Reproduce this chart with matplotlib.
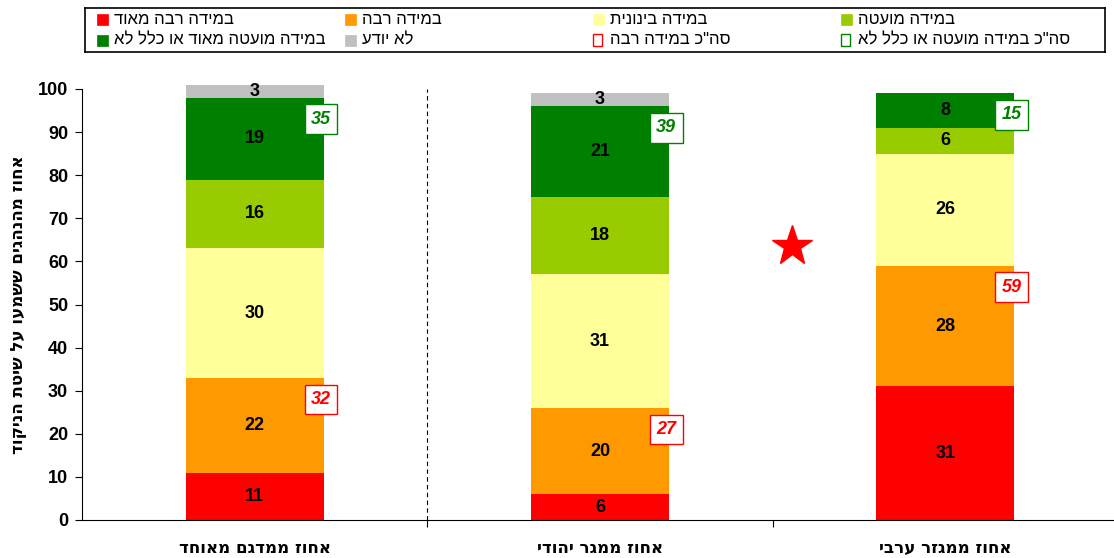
import numpy as np
import matplotlib.pyplot as plt
from matplotlib.patches import Rectangle

plt.rcParams['font.family'] = ['Liberation Sans', 'DejaVu Sans']


def heb(s):
    # matplotlib draws left to right, so Hebrew is reversed for display
    return s[::-1]


# Datos
categories = ['אחוז ממדגם מאוחד', 'אחוז ממגר יהודי', 'אחוז ממגזר ערבי']
very_much = [11, 6, 31]
much = [22, 20, 28]
medium = [30, 31, 26]
little = [16, 18, 6]
not_at_all = [19, 21, 8]
dont_know = [3, 3, 0]
total_much = [32, 27, 59]
total_little = [35, 39, 15]

series_names = ['במידה רבה מאוד', 'במידה רבה', 'במידה בינונית', 'במידה מועטה',
                'במידה מועטה מאוד או כלל לא', 'לא יודע']
series_values = [very_much, much, medium, little, not_at_all, dont_know]
colors = ['#FF0000', '#FF9900', '#FFFF99', '#99CC00', '#008000', '#C0C0C0']
y_label = 'אחוז מהנהגים ששמעו על שיטת הניקוד'
total_much_name = 'סה"כ במידה רבה'
total_little_name = 'סה"כ במידה מועטה או כלל לא'

fig = plt.figure(figsize=(11.14, 5.58), dpi=100)
ax = fig.add_axes([82 / 1114, 38 / 558, 1036 / 1114, 431 / 558])

x = np.arange(len(categories))
width = 0.4
bottom = np.zeros(len(categories))
tops = []

# Barras apiladas con sus etiquetas
for vals, col in zip(series_values, colors):
    vals = np.array(vals, dtype=float)
    ax.bar(x, vals, width, bottom=bottom, color=col, clip_on=False, zorder=2)
    for i, v in enumerate(vals):
        if v > 0:
            ax.text(x[i], bottom[i] + v / 2, '%d' % v, ha='center', va='center',
                    fontsize=13, fontweight='bold', zorder=3)
    bottom = bottom + vals
    tops.append(bottom.copy())

# Cajas con los totales
for i in range(len(categories)):
    ax.text(x[i] + width / 2 - 0.008, tops[1][i] - 5, '%d' % total_much[i],
            ha='center', va='center', color='#FF0000', fontsize=13,
            fontweight='bold', style='italic', zorder=4,
            bbox=dict(boxstyle='square,pad=0.35', fc='white', ec='#FF0000', lw=1))
    ax.text(x[i] + width / 2 - 0.008, tops[4][i] - 5, '%d' % total_little[i],
            ha='center', va='center', color='#008000', fontsize=13,
            fontweight='bold', style='italic', zorder=4,
            bbox=dict(boxstyle='square,pad=0.35', fc='white', ec='#008000', lw=1))

# Línea discontinua y estrella
ax.plot([0.5, 0.5], [0, 100], color='black', lw=0.8, ls=(0, (4, 3)), zorder=1)
star_x, star_y = 1.555, 63.5
ax.plot(star_x, star_y, marker='*', ms=30, color='#FF0000', mec='#FF0000', zorder=3)

# Ejes
ax.set_xlim(-0.5, 2.5)
ax.set_ylim(0, 100)
ax.set_yticks(np.arange(0, 101, 10))
ax.tick_params(axis='y', direction='out', length=5, labelsize=13, pad=5)
for lab in ax.get_yticklabels():
    lab.set_fontweight('bold')
ax.set_xticks([0.5, 1.5])
ax.set_xticklabels([])
ax.tick_params(axis='x', direction='out', length=5)
for i, c in enumerate(categories):
    ax.text(x[i], -6.6, heb(c), ha='center', va='center', fontsize=12,
            fontweight='bold', family='DejaVu Sans', transform=ax.transData)
ax.spines['top'].set_visible(False)
ax.spines['right'].set_visible(False)
ax.spines['left'].set_bounds(0, 100)
ax.set_ylabel(heb(y_label), fontsize=12, fontweight='bold', family='DejaVu Sans',
              labelpad=8)

# Leyenda dibujada a mano (columnas equidistantes)
lax = fig.add_axes([85 / 1114, 1 - 52 / 558, 1020 / 1114, 44 / 558])
lax.set_xlim(0, 1020)
lax.set_ylim(44, 0)
lax.set_xticks([])
lax.set_yticks([])
for s in lax.spines.values():
    s.set_linewidth(1.2)

entries = [(series_names[0], colors[0], 'fill'), (series_names[1], colors[1], 'fill'),
           (series_names[2], colors[2], 'fill'), (series_names[3], colors[3], 'fill'),
           (series_names[4], colors[4], 'fill'), (series_names[5], colors[5], 'fill'),
           (total_much_name, '#FF0000', 'edge'), (total_little_name, '#008000', 'edge')]
for k, (name, col, kind) in enumerate(entries):
    row, colno = divmod(k, 4)
    x0 = 12 + 248 * colno
    y0 = 11 + 21 * row
    if kind == 'fill':
        lax.add_patch(Rectangle((x0, y0 - 5), 11, 11, fc=col, ec=col, lw=0.5))
    else:
        lax.add_patch(Rectangle((x0, y0 - 6), 9, 12, fc='white', ec=col, lw=1))
    lax.text(x0 + 17, y0, heb(name), ha='left', va='center', fontsize=12)

fig.savefig('out.png', dpi=100)
